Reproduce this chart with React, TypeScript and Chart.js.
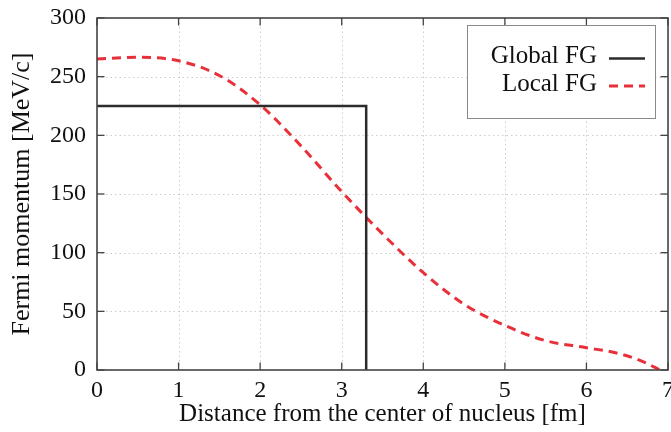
import React, { useEffect, useRef } from 'react';
import { Chart, registerables } from 'chart.js';

Chart.register(...registerables);

// ---- data ----
const seriesNames = ['Global FG', 'Local FG'];
const globalX = [0, 3.3, 3.3];
const globalY = [225, 225, 0];
const localX = [0, 0.5, 1, 1.5, 2, 2.5, 3, 3.5, 4, 4.5, 5, 5.5, 6, 6.4, 6.7, 6.9];
const localY = [265, 266.5, 263.5, 251, 226, 191, 152, 116, 83, 56, 38, 25, 19, 14, 7, 0];
const xTicks = [0, 1, 2, 3, 4, 5, 6, 7];
const yTicks = [0, 50, 100, 150, 200, 250, 300];
const xTitle = 'Distance from the center of nucleus [fm]';
const yTitle = 'Fermi momentum [MeV/c]';

const SERIF = '"Liberation Serif", "Times New Roman", serif';
const BLACK = '#2b2b2b';
const RED = '#e8303a';
const RED_DASH = [9, 6];

const framePlugin = {
  id: 'framePlugin',
  beforeDatasetsDraw(chart: any) {
    const { ctx, chartArea: a, scales } = chart;
    const x = scales.x, y = scales.y;
    ctx.save();
    ctx.strokeStyle = '#cdcdcd';
    ctx.lineWidth = 1;
    ctx.setLineDash([1.5, 3]);
    xTicks.forEach((v) => {
      if (v <= xTicks[0] || v >= xTicks[xTicks.length - 1]) return;
      const px = Math.round(x.getPixelForValue(v)) + 0.5;
      ctx.beginPath(); ctx.moveTo(px, a.top); ctx.lineTo(px, a.bottom); ctx.stroke();
    });
    yTicks.forEach((v) => {
      if (v <= yTicks[0] || v >= yTicks[yTicks.length - 1]) return;
      const py = Math.round(y.getPixelForValue(v)) + 0.5;
      ctx.beginPath(); ctx.moveTo(a.left, py); ctx.lineTo(a.right, py); ctx.stroke();
    });
    ctx.restore();
  },
  afterDatasetsDraw(chart: any) {
    const { ctx, chartArea: a, scales } = chart;
    const x = scales.x, y = scales.y;
    ctx.save();
    ctx.setLineDash([]);
    ctx.strokeStyle = '#444';
    ctx.lineWidth = 1.6;
    ctx.strokeRect(a.left, a.top, a.right - a.left, a.bottom - a.top);
    const tl = 7.5;
    ctx.lineWidth = 1.3;
    xTicks.forEach((v) => {
      const px = x.getPixelForValue(v);
      ctx.beginPath(); ctx.moveTo(px, a.bottom); ctx.lineTo(px, a.bottom - tl); ctx.stroke();
      ctx.beginPath(); ctx.moveTo(px, a.top); ctx.lineTo(px, a.top + tl); ctx.stroke();
    });
    yTicks.forEach((v) => {
      const py = y.getPixelForValue(v);
      ctx.beginPath(); ctx.moveTo(a.left, py); ctx.lineTo(a.left + tl, py); ctx.stroke();
      ctx.beginPath(); ctx.moveTo(a.right, py); ctx.lineTo(a.right - tl, py); ctx.stroke();
    });

    // legend
    const bx = a.right - 201, by = a.top + 7, bw = 188, bh = 93;
    ctx.fillStyle = '#fff';
    ctx.fillRect(bx, by, bw, bh);
    ctx.strokeStyle = '#8a8a8a';
    ctx.lineWidth = 1;
    ctx.strokeRect(bx + 0.5, by + 0.5, bw, bh);
    ctx.font = `25px ${SERIF}`;
    ctx.fillStyle = '#111';
    ctx.textAlign = 'right';
    ctx.textBaseline = 'alphabetic';
    const textRight = bx + 130;
    ctx.fillText(seriesNames[0], textRight, by + 38);
    ctx.fillText(seriesNames[1], textRight, by + 66);
    const l0 = bx + 142, l1 = bx + 178;
    ctx.strokeStyle = BLACK; ctx.lineWidth = 2.5;
    ctx.beginPath(); ctx.moveTo(l0, by + 33.5); ctx.lineTo(l1, by + 33.5); ctx.stroke();
    ctx.strokeStyle = RED; ctx.lineWidth = 3; ctx.setLineDash(RED_DASH);
    ctx.beginPath(); ctx.moveTo(l0, by + 61); ctx.lineTo(l1, by + 61); ctx.stroke();
    ctx.restore();
  },
};

export default function App() {
  const ref = useRef<HTMLCanvasElement | null>(null);
  useEffect(() => {
    if (!ref.current) return;
    const chart = new Chart(ref.current, {
      type: 'line',
      data: {
        datasets: [
          {
            label: seriesNames[0],
            data: globalX.map((v, i) => ({ x: v, y: globalY[i] })),
            borderColor: BLACK,
            borderWidth: 2.5,
            pointRadius: 0,
            tension: 0,
            fill: false,
          },
          {
            label: seriesNames[1],
            data: localX.map((v, i) => ({ x: v, y: localY[i] })),
            borderColor: RED,
            borderWidth: 3,
            borderDash: RED_DASH,
            pointRadius: 0,
            cubicInterpolationMode: 'monotone',
            fill: false,
          },
        ],
      },
      options: {
        animation: false,
        responsive: false,
        devicePixelRatio: 1,
        layout: { padding: { top: 18, right: 22, bottom: 0, left: 0 } },
        plugins: { legend: { display: false }, tooltip: { enabled: false } },
        scales: {
          x: {
            type: 'linear',
            min: 0,
            max: 7,
            afterBuildTicks: (s: any) => { s.ticks = xTicks.map((v) => ({ value: v })); },
            afterFit: (s: any) => { s.height = 62; s.paddingLeft = 0; s.paddingRight = 0; },
            grid: { display: false, drawTicks: false },
            border: { display: false },
            ticks: { color: '#111', font: { family: SERIF, size: 24 }, padding: 6, maxRotation: 0 },
            title: { display: true, text: xTitle, color: '#111', font: { family: SERIF, size: 25 }, padding: { top: 0, bottom: 3 } },
          },
          y: {
            type: 'linear',
            min: 0,
            max: 300,
            afterBuildTicks: (s: any) => { s.ticks = yTicks.map((v) => ({ value: v })); },
            afterFit: (s: any) => { s.width = 97; s.paddingTop = 0; s.paddingBottom = 0; },
            grid: { display: false, drawTicks: false },
            border: { display: false },
            ticks: { color: '#111', font: { family: SERIF, size: 24 }, padding: 11 },
            title: { display: true, text: yTitle, color: '#111', font: { family: SERIF, size: 26 }, padding: { top: 7, bottom: 0 } },
          },
        },
      },
      plugins: [framePlugin],
    } as any);
    return () => chart.destroy();
  }, []);
  return (
    <div style={{ position: 'absolute', left: 0, top: 0, width: 671, height: 432, overflow: 'hidden', background: '#fff' }}>
      <canvas ref={ref} width={690} height={432} style={{ width: 690, height: 432, display: 'block' }} />
    </div>
  );
}
